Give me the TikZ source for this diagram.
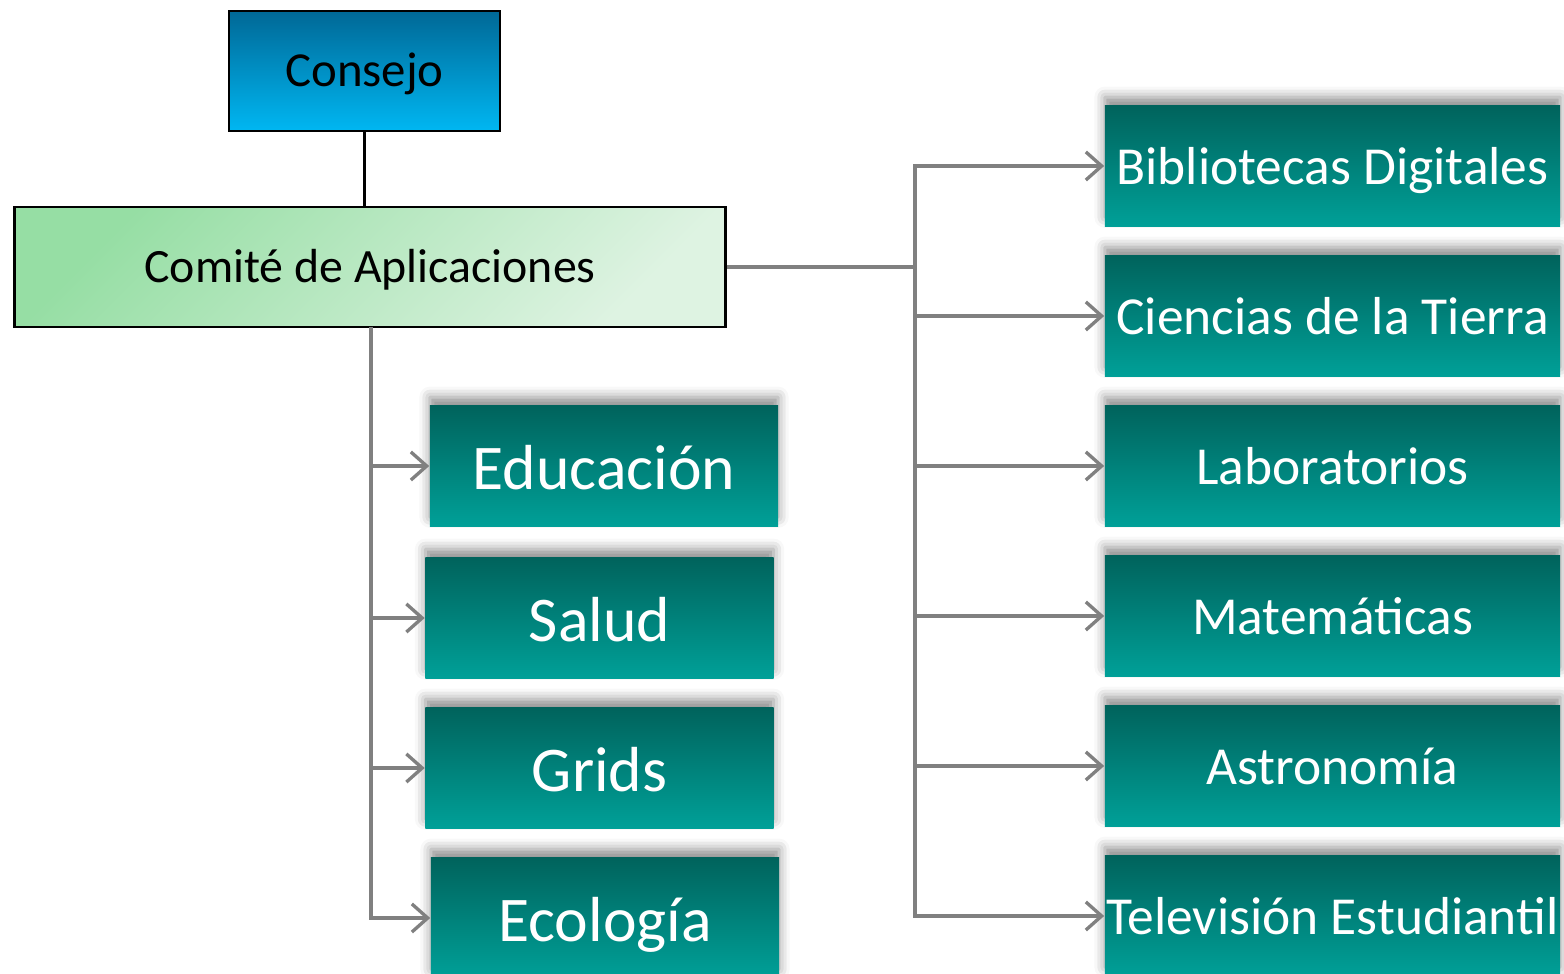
\documentclass[tikz,border=0pt]{standalone}
\usepackage{fontspec}
\setmainfont{Carlito}
\usetikzlibrary{arrows.meta,shadows.blur}

\definecolor{tealtop}{RGB}{0,99,92}
\definecolor{tealbot}{RGB}{0,160,152}
\definecolor{bluetop}{RGB}{0,104,150}
\definecolor{bluebot}{RGB}{0,183,242}
\definecolor{greenA}{RGB}{150,222,164}
\definecolor{greenB}{RGB}{222,243,226}
\definecolor{linkgray}{RGB}{128,128,128}

\begin{document}
\begin{tikzpicture}[x=0.01cm,y=-0.01cm,
  topbox/.style={draw=black, line width=0.8pt, top color=bluetop, bottom color=bluebot,
    text height=9pt, text depth=0pt,
    minimum width=2.71cm, minimum height=1.2cm, font=\fontsize{13.9}{16}\selectfont},
  greenbox/.style={draw=black, line width=0.8pt, left color=greenA, right color=greenB,
    shading angle=45, text height=9pt, text depth=0pt,
    minimum width=7.1cm, minimum height=1.2cm, font=\fontsize{13.6}{16}\selectfont},
  tealbox/.style={top color=tealtop, bottom color=tealbot, text=white, inner sep=0pt, text depth=0pt,
    minimum height=1.2cm, blur shadow={shadow xshift=0pt, shadow yshift=2.5pt, shadow blur radius=3pt, shadow opacity=45}},
  leftbox/.style={tealbox, text height=13.6pt, minimum width=3.48cm, font=\fontsize{18.1}{21}\selectfont},
  rightbox/.style={tealbox, text height=10.8pt, minimum width=4.55cm, font=\fontsize{15.2}{18}\selectfont},
  conn/.style={draw=linkgray, line width=0.95pt, -{Straight Barb[length=4.5pt,width=8pt]}}]
\useasboundingbox (0,0) rectangle (1564,974);

% top of the chart
\node[topbox] (consejo) at (364.5,71) {Consejo};
\node[greenbox] (comite) at (370,267) {Comité de Aplicaciones};
\draw[line width=1pt] (consejo.south) -- (consejo.south |- comite.north);

% left column
\node[leftbox] (educacion) at (604,466) {Educación};
\node[leftbox] (salud) at (599.5,618) {Salud};
\node[leftbox] (grids) at (599.5,768) {Grids};
\node[leftbox] (ecologia) at (605,918) {Ecología};

% right column
\node[rightbox] (bibliotecas) at (1332.5,166) {Bibliotecas Digitales};
\node[rightbox] (ciencias) at (1332.5,316) {Ciencias de la Tierra};
\node[rightbox] (laboratorios) at (1332.5,466) {Laboratorios};
\node[rightbox] (matematicas) at (1332.5,616) {Matemáticas};
\node[rightbox] (astronomia) at (1332.5,766) {Astronomía};
\node[rightbox] (television) at (1332.5,916) {Televisión Estudiantil};

\coordinate (ltrunk) at (371,327);
\coordinate (rtrunk) at (915,267);

\foreach \n in {educacion,salud,grids,ecologia}
  \draw[conn] (ltrunk) |- (\n.west);
\draw[linkgray, line width=0.95pt] (comite.east |- rtrunk) -- (rtrunk);
\foreach \n in {bibliotecas,ciencias,laboratorios,matematicas,astronomia,television}
  \draw[conn] (rtrunk) |- (\n.west);
\end{tikzpicture}
\end{document}
